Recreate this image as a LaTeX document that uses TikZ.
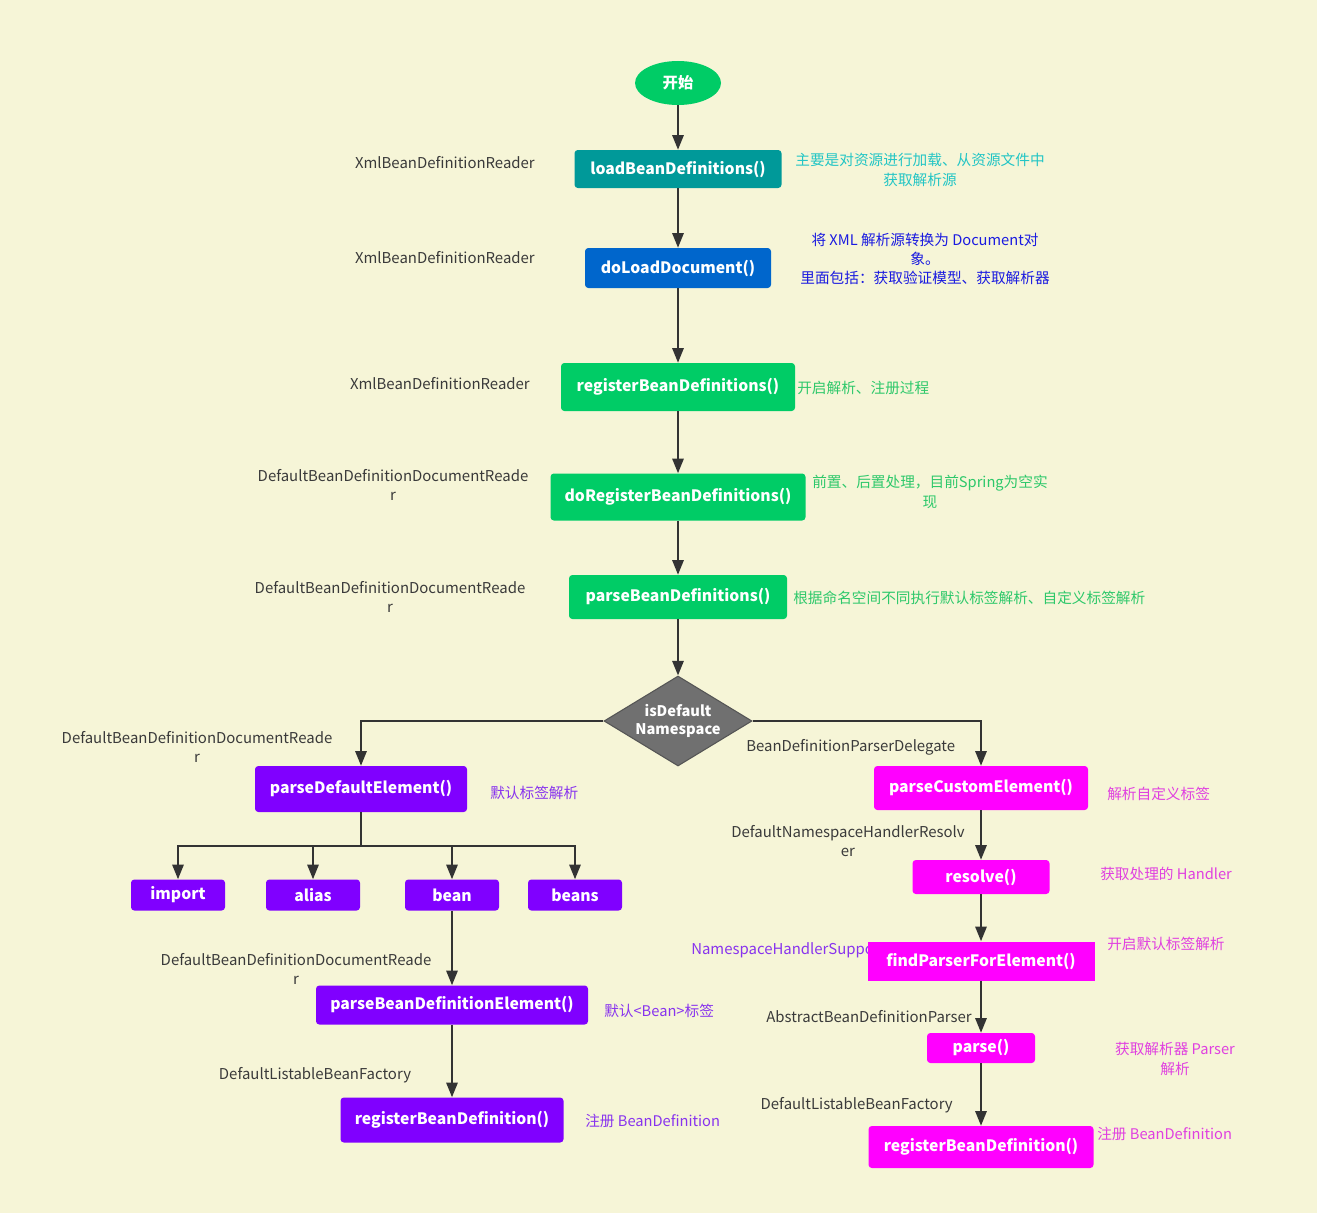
\documentclass[tikz,border=0pt]{standalone}
\usepackage{fontspec}
\setmainfont{Noto Sans CJK SC}
\usetikzlibrary{shapes.geometric,arrows.meta}
\definecolor{bg}{HTML}{F6F5D7}
\definecolor{linec}{HTML}{333333}
\definecolor{lblc}{HTML}{3A3A3A}
\definecolor{greenb}{HTML}{00CC66}
\definecolor{tealb}{HTML}{009999}
\definecolor{blueb}{HTML}{0066CC}
\definecolor{grayb}{HTML}{707070}
\definecolor{grayd}{HTML}{555555}
\definecolor{purpb}{HTML}{8000FF}
\definecolor{magb}{HTML}{FF00FF}
\definecolor{tealn}{HTML}{22C5C5}
\definecolor{bluen}{HTML}{1A1AE0}
\definecolor{greenn}{HTML}{2DC86A}
\definecolor{purpn}{HTML}{8833EE}
\definecolor{magn}{HTML}{E040E0}
\begin{document}
\begin{tikzpicture}[x=0.75pt,y=-0.75pt,
  box/.style={rounded corners=2.5pt, text=white, font=\fontsize{11.8}{13}\selectfont\bfseries, inner sep=0pt},
  lbl/.style={text=lblc, font=\fontsize{11.2}{14.5}\selectfont, align=center, inner sep=0pt},
  note/.style={font=\fontsize{11}{14.5}\selectfont, align=center, inner sep=0pt},
  arr/.style={draw=linec, line width=1.5pt, -{Triangle[width=8.5pt,length=11pt]}},
  ln/.style={draw=linec, line width=1.5pt},
]
\path[use as bounding box, fill=bg] (0,0) rectangle (1317,1213);

% main column
\node[ellipse, fill=greenb, minimum width=64.5pt, minimum height=33pt, inner sep=0pt, text=white, font=\fontsize{11.5}{13}\selectfont\bfseries] (start) at (678,83) {开始};
\node[box, fill=tealb, minimum width=155.25pt, minimum height=28.5pt] (load) at (678,169) {loadBeanDefinitions()};
\node[box, fill=blueb, minimum width=139.5pt, minimum height=30pt] (doload) at (678,268) {doLoadDocument()};
\node[box, fill=greenb, minimum width=175.5pt, minimum height=36pt] (reg) at (678,387) {registerBeanDefinitions()};
\node[box, fill=greenb, minimum width=191.25pt, minimum height=35.25pt] (doreg) at (678,497) {doRegisterBeanDefinitions()};
\node[box, fill=greenb, minimum width=163.5pt, minimum height=33pt] (pbd) at (678,597) {parseBeanDefinitions()};
\node[diamond, fill=grayb, draw=grayd, line width=0.8pt, minimum width=111pt, minimum height=67.5pt, aspect=1.64, inner sep=0pt, text=white, align=center, font=\fontsize{11}{14}\selectfont\bfseries] (dia) at (678,721) {isDefault\\Namespace};

% left branch
\node[box, fill=purpb, minimum width=159pt, minimum height=34.5pt] (pde) at (361,789) {parseDefaultElement()};
\node[box, fill=purpb, minimum width=70.5pt, minimum height=23.25pt] (imp) at (178,895) {import};
\node[box, fill=purpb, minimum width=70.5pt, minimum height=23.25pt] (ali) at (313,895) {alias};
\node[box, fill=purpb, minimum width=70.5pt, minimum height=23.25pt] (bean) at (452,895) {bean};
\node[box, fill=purpb, minimum width=70.5pt, minimum height=23.25pt] (beans) at (575,895) {beans};
\node[box, fill=purpb, minimum width=204pt, minimum height=29.25pt] (pbde) at (452,1005) {parseBeanDefinitionElement()};
\node[box, fill=purpb, minimum width=167.25pt, minimum height=33.75pt] (rbdl) at (452,1120) {registerBeanDefinition()};

% right branch
\node[box, fill=magb, minimum width=160.5pt, minimum height=33pt] (pce) at (981,788) {parseCustomElement()};
\node[box, fill=magb, minimum width=102.75pt, minimum height=25.5pt] (res) at (981,877) {resolve()};
\node[text=purpn, font=\fontsize{11.2}{13}\selectfont, anchor=west, inner sep=0pt] (nhs) at (691,950) {NamespaceHandlerSupport};
\node[box, rounded corners=0pt, fill=magb, minimum width=170.25pt, minimum height=29.25pt] (fpe) at (981,961) {findParserForElement()};
\node[box, fill=magb, minimum width=81pt, minimum height=22.5pt] (parse) at (981,1048) {parse()};
\node[box, fill=magb, minimum width=168.75pt, minimum height=31.5pt] (rbdr) at (981,1147) {registerBeanDefinition()};

% connectors
\draw[arr] (start) -- (load);
\draw[arr] (load) -- (doload);
\draw[arr] (doload) -- (reg);
\draw[arr] (reg) -- (doreg);
\draw[arr] (doreg) -- (pbd);
\draw[arr] (pbd) -- (dia);
\draw[arr] (dia.west) -| (pde.north);
\draw[arr] (dia.east) -| (pce.north);
\coordinate (brk) at (361,846);
\draw[ln] (pde.south) -- (brk);
\draw[arr] (brk) -| (imp.north);
\draw[arr] (brk) -| (ali.north);
\draw[arr] (brk) -| (bean.north);
\draw[arr] (brk) -| (beans.north);
\draw[arr] (bean) -- (pbde);
\draw[arr] (pbde) -- (rbdl);
\draw[arr] (pce) -- (res);
\draw[arr] (res) -- (fpe);
\draw[arr] (fpe) -- (parse);
\draw[arr] (parse) -- (rbdr);

% grey class labels
\node[lbl, anchor=east] (l1) at (535,163) {XmlBeanDefinitionReader};
\node[lbl, anchor=east] (l2) at (535,258) {XmlBeanDefinitionReader};
\node[lbl, anchor=east] (l3) at (530,384) {XmlBeanDefinitionReader};
\node[lbl] (l4) at (393,485) {DefaultBeanDefinitionDocumentReade\\r};
\node[lbl] (l5) at (390,597) {DefaultBeanDefinitionDocumentReade\\r};
\node[lbl] (l6) at (197,747) {DefaultBeanDefinitionDocumentReade\\r};
\node[lbl, anchor=west] (l7) at (746,747) {BeanDefinitionParserDelegate};
\node[lbl] (l8) at (848,841) {DefaultNamespaceHandlerResolv\\er};
\node[lbl] (l9) at (296,969) {DefaultBeanDefinitionDocumentReade\\r};
\node[lbl, anchor=east] (l10) at (972,1017) {AbstractBeanDefinitionParser};
\node[lbl] (l11) at (315,1075) {DefaultListableBeanFactory};
\node[lbl, anchor=east] (l12) at (953,1105) {DefaultListableBeanFactory};

% annotations
\node[note, text=tealn] (n1) at (920,170) {主要是对资源进行加载、从资源文件中\\获取解析源};
\node[note, text=bluen] (n2) at (925,259) {将 XML 解析源转换为 Document对\\象。\\里面包括：获取验证模型、获取解析器};
\node[note, text=greenn, anchor=west] (n3) at (797,388) {开启解析、注册过程};
\node[note, text=greenn] (n4) at (930,492) {前置、后置处理，目前Spring为空实\\现};
\node[note, text=greenn, anchor=west] (n5) at (793,598) {根据命名空间不同执行默认标签解析、自定义标签解析};
\node[note, text=purpn, anchor=west] (n6) at (490,793) {默认标签解析};
\node[note, text=purpn, anchor=west] (n7) at (604,1011) {默认<Bean>标签};
\node[note, text=purpn, anchor=west] (n8) at (585,1121) {注册 BeanDefinition};
\node[note, text=magn, anchor=west] (n9) at (1107,794) {解析自定义标签};
\node[note, text=magn, anchor=west] (n10) at (1100,874) {获取处理的 Handler};
\node[note, text=magn, anchor=west] (n11) at (1107,944) {开启默认标签解析};
\node[note, text=magn] (n12) at (1175,1059) {获取解析器 Parser\\解析};
\node[note, text=magn, anchor=west] (n13) at (1097,1134) {注册 BeanDefinition};
\end{tikzpicture}
\end{document}
